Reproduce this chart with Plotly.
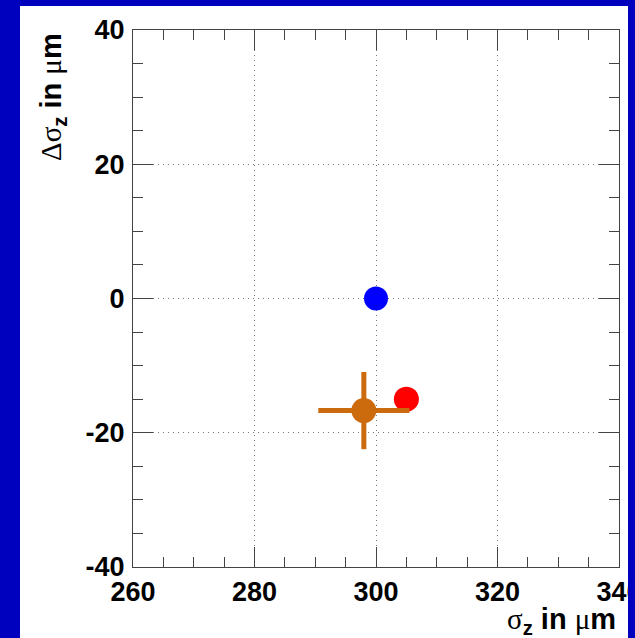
import plotly.graph_objects as go

# Beam-size measurements: sigma_z vs. its deviation
nominal_x = [300]
nominal_y = [0]

shifted_x = [305]
shifted_y = [-15]

measured_x = [298]
measured_y = [-16.7]
measured_ex = [7.5]
measured_ey = [5.75]

x_range = [260, 340]
y_range = [-40, 40]
x_ticks = [260, 280, 300, 320, 340]
x_ticktext = ["260", "280", "300", "320", "340"]
y_ticks = [-40, -20, 0, 20, 40]
y_ticktext = ["-40", "-20", "0", "20", "40"]

W, H = 635, 638
ML, MR, MT, MB = 133, 16, 30, 71
PW, PH = W - ML - MR, H - MT - MB


def px_x(p):
    return (p - ML) / PW


def px_y(p):
    return (H - MB - p) / PH


BLUE_BG = "#0000bf"
ORANGE = "#cc6a0e"
FONT = "Liberation Sans"


def greek(ch):
    return ("<span style=\"font-family:'Liberation Serif';font-weight:normal\">"
            + ch + "</span>")


fig = go.Figure()

fig.add_trace(go.Scatter(
    x=nominal_x, y=nominal_y, mode="markers",
    marker=dict(color="#0000ff", size=24, line=dict(width=0)),
    showlegend=False,
))
fig.add_trace(go.Scatter(
    x=shifted_x, y=shifted_y, mode="markers",
    marker=dict(color="#ff0000", size=25, line=dict(width=0)),
    showlegend=False,
))
fig.add_trace(go.Scatter(
    x=measured_x, y=measured_y, mode="markers",
    marker=dict(color=ORANGE, size=25, line=dict(width=0)),
    error_x=dict(type="data", array=measured_ex, thickness=5, width=0, color=ORANGE),
    error_y=dict(type="data", array=measured_ey, thickness=5, width=0, color=ORANGE),
    showlegend=False,
))

tickfont = dict(family=FONT, size=27, color="black", weight="bold")
axis_common = dict(
    showline=True, linecolor="#444", linewidth=1, mirror="allticks",
    ticks="inside", ticklen=20, tickcolor="#444", tickwidth=1,
    showgrid=True, gridcolor="#777", gridwidth=1, griddash="1px,4px",
    zeroline=False, tickfont=tickfont, ticklabeloverflow="allow",
    automargin=False,
    minor=dict(ticks="inside", ticklen=10, tickcolor="#444", tickwidth=1,
               dtick=5, showgrid=False),
)

fig.update_xaxes(range=x_range, tickvals=x_ticks, ticktext=x_ticktext,
                 ticklabelstandoff=1, **axis_common)
fig.update_yaxes(range=y_range, tickvals=y_ticks, ticktext=y_ticktext,
                 ticklabelstandoff=2, **axis_common)

title_font = dict(family=FONT, size=29, color="black", weight="bold")

fig.update_layout(
    width=W, height=H,
    margin=dict(l=ML, r=MR, t=MT, b=MB, autoexpand=False),
    paper_bgcolor=BLUE_BG,
    plot_bgcolor="white",
    shapes=[
        # white canvas behind the frame
        dict(type="rect", xref="paper", yref="paper", layer="below",
             x0=px_x(20), x1=px_x(628), y0=px_y(6), y1=px_y(640),
             fillcolor="white", line=dict(width=0)),
        # blue strip on the right edge of the canvas
        dict(type="rect", xref="paper", yref="paper", layer="above",
             x0=px_x(628), x1=px_x(640), y0=px_y(-5), y1=px_y(645),
             fillcolor=BLUE_BG, line=dict(width=0)),
    ],
    annotations=[
        dict(text=greek("σ") + "<sub>z</sub> in " + greek("μ") + "m",
             xref="paper", yref="paper",
             x=px_x(618), y=px_y(621), xanchor="right", yanchor="middle",
             showarrow=False, font=title_font),
        dict(text=greek("Δσ") + "<sub>z</sub> in " + greek("μ") + "m",
             xref="paper", yref="paper",
             x=px_x(53), y=px_y(97), xanchor="center", yanchor="middle",
             textangle=-90, showarrow=False, font=title_font),
    ],
)

fig.write_html("out.html")
